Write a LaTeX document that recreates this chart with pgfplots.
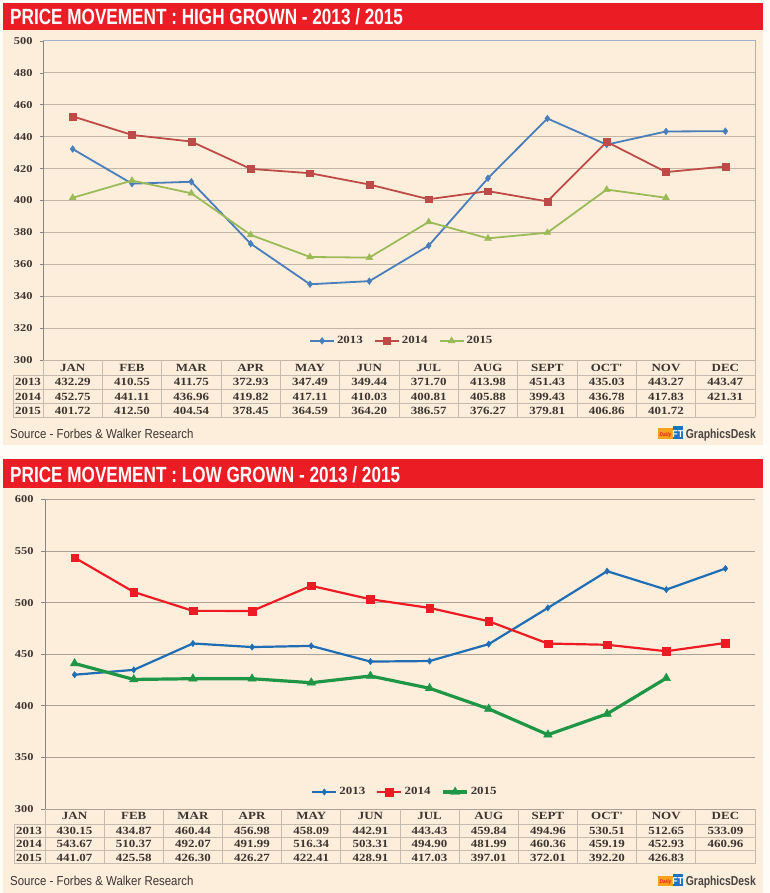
\documentclass[border=0pt]{standalone}
\usepackage{pgfplots}
\pgfplotsset{compat=1.18}
\usepackage{fontspec}
\setmainfont{Liberation Serif}
\newfontfamily\tabfont[FakeStretch=1.18]{Liberation Serif}
\newfontfamily\titlefont[FakeStretch=0.78]{Liberation Sans}
\newfontfamily\srcfont[FakeStretch=0.88]{Liberation Sans}
\newfontfamily\gdfont[FakeStretch=0.8]{Liberation Sans}
\definecolor{cream}{HTML}{FDEEDC}
\definecolor{outer}{HTML}{FFFCF7}
\definecolor{hdrred}{HTML}{EC1C24}
\definecolor{txt}{HTML}{3C3530}
\definecolor{gridA}{HTML}{C2B6A7}
\definecolor{gridB}{HTML}{ABA197}
\definecolor{frameblue}{HTML}{9EB4CC}
\definecolor{axgray}{HTML}{8A8580}
\definecolor{tline}{HTML}{C5BBAF}
\definecolor{bA}{HTML}{4A7EBB}
\definecolor{rA}{HTML}{BE4B48}
\definecolor{gA}{HTML}{9BBB59}
\definecolor{bB}{HTML}{1F6DB4}
\definecolor{rB}{HTML}{ED1C24}
\definecolor{gB}{HTML}{1E9646}
\definecolor{logoorange}{HTML}{F6A31B}
\definecolor{logoblue}{HTML}{1E73BE}
\definecolor{gdtxt}{HTML}{4A4542}
\newcommand\tabsize{\tabfont\bfseries\fontsize{11}{13}\selectfont}
\newcommand\ticksize{\tabfont\bfseries\fontsize{10.5}{12}\selectfont}
\newcommand\logo[1]{%
  \fill[logoorange] (658pt,{-(#1-10)*1pt}) rectangle (673pt,{-(#1+0.5)*1pt});
  \node[anchor=base, inner sep=0pt, text=hdrred, font=\srcfont\bfseries\itshape\fontsize{5.5}{6}\selectfont] at (665.5pt,{-(#1-2)*1pt}) {Daily};
  \fill[logoblue] (673pt,{-(#1-12)*1pt}) rectangle (682.5pt,{-(#1+0.5)*1pt});
  \node[anchor=base, inner sep=0pt, text=white, font=\srcfont\bfseries\fontsize{10}{11}\selectfont] at (677.8pt,{-(#1-1)*1pt}) {FT};
  \node[anchor=base east, inner sep=0pt, text=gdtxt, font=\gdfont\bfseries\fontsize{13}{15}\selectfont] at (756pt,{-#1*1pt}) {GraphicsDesk};
}
\begin{document}
\begin{tikzpicture}
\fill[outer] (0,0) rectangle (770pt,-893pt);
\useasboundingbox (0,0) rectangle (770pt,-893pt);
% panels
\fill[cream] (3pt,-30pt) rectangle (763pt,-445pt);
\fill[hdrred] (3pt,-3pt) rectangle (763pt,-30pt);
\fill[cream] (3pt,-488pt) rectangle (763pt,-893pt);
\fill[hdrred] (3pt,-459pt) rectangle (763pt,-488pt);
\node[anchor=base west, inner sep=0pt, text=white, font=\titlefont\bfseries\fontsize{22}{24}\selectfont] at (10pt,-24.5pt) {PRICE MOVEMENT : HIGH GROWN - 2013 / 2015};
\node[anchor=base west, inner sep=0pt, text=white, font=\titlefont\bfseries\fontsize{22}{24}\selectfont] at (10pt,-482pt) {PRICE MOVEMENT : LOW GROWN - 2013 / 2015};

% ---------------- TOP CHART ----------------
\begin{axis}[
  at={(43pt,-360pt)}, anchor=south west,
  scale only axis, width=712pt, height=319pt,
  xmin=0.5, xmax=12.5, ymin=300, ymax=500,
  ytick={300,320,...,500},
  axis x line=none, axis y line=left,
  y axis line style={-, draw=axgray, line width=0.9pt},
  ymajorgrids, grid style={draw=gridA, line width=1pt},
  tick align=outside, major tick length=3pt,
  ytick style={draw=axgray, line width=0.8pt},
  yticklabel style={font=\ticksize, text=txt, xshift=-4pt},
  /pgf/number format/assume math mode=true,
  /pgf/number format/1000 sep={},
  clip=false,
  legend style={at={(0.504,0.06)}, anchor=center, draw=none, fill=none, font=\tabsize, text=txt, legend columns=3, /tikz/every even column/.append style={column sep=9pt}},
  legend image code/.code={\draw[mark repeat=2,mark phase=2,#1] plot coordinates {(0pt,0pt) (12pt,0pt) (24pt,0pt)};},
]
\draw[frameblue, line width=1pt] (rel axis cs:0,1) -- (rel axis cs:1,1) -- (rel axis cs:1,0);
\addplot[bA, line width=1.8pt, mark=diamond*, mark size=3.4pt, mark options={solid, line width=0.4pt}] coordinates {
(1,432.29)(2,410.55)(3,411.75)(4,372.93)(5,347.49)(6,349.44)(7,371.70)(8,413.98)(9,451.43)(10,435.03)(11,443.27)(12,443.47)};
\addplot[rA, line width=1.8pt, mark=square*, mark size=3.4pt, mark options={solid, line width=0.4pt}] coordinates {
(1,452.75)(2,441.11)(3,436.96)(4,419.82)(5,417.11)(6,410.03)(7,400.81)(8,405.88)(9,399.43)(10,436.78)(11,417.83)(12,421.31)};
\addplot[gA, line width=1.8pt, mark=triangle*, mark size=4pt, mark options={solid, line width=0.4pt}] coordinates {
(1,401.72)(2,412.50)(3,404.54)(4,378.45)(5,364.59)(6,364.20)(7,386.57)(8,376.27)(9,379.81)(10,406.86)(11,401.72)};
\legend{2013,2014,2015}
\end{axis}

% top table
\begin{scope}[tline, line width=0.9pt]
\foreach \y in {375,389,403,417} \draw (13pt,{-\y*1pt}) -- (755pt,{-\y*1pt});
\draw (13pt,-375pt) -- (13pt,-417pt);
\foreach \k in {0,...,12} \draw ({43pt+\k*59.333pt},-360pt) -- ({43pt+\k*59.333pt},-417pt);
\end{scope}
\begin{scope}[every node/.style={anchor=base, inner sep=0pt, font=\tabsize, text=txt}]
\foreach \m [count=\i] in {JAN,FEB,MAR,APR,MAY,JUN,JUL,AUG,SEPT,OCT',NOV,DEC}
  \node at ({43pt+(\i-0.5)*59.333pt},-371.7pt) {\m};
\node at (28pt,-385.7pt) {2013};
\node at (28pt,-400.7pt) {2014};
\node at (28pt,-414.3pt) {2015};
\foreach \v [count=\i] in {432.29,410.55,411.75,372.93,347.49,349.44,371.70,413.98,451.43,435.03,443.27,443.47}
  \node at ({43pt+(\i-0.5)*59.333pt},-385.7pt) {\v};
\foreach \v [count=\i] in {452.75,441.11,436.96,419.82,417.11,410.03,400.81,405.88,399.43,436.78,417.83,421.31}
  \node at ({43pt+(\i-0.5)*59.333pt},-400.7pt) {\v};
\foreach \v [count=\i] in {401.72,412.50,404.54,378.45,364.59,364.20,386.57,376.27,379.81,406.86,401.72}
  \node at ({43pt+(\i-0.5)*59.333pt},-414.3pt) {\v};
\end{scope}
\node[anchor=base west, inner sep=0pt, font=\srcfont\fontsize{13}{15}\selectfont, text=txt] at (10pt,-438pt) {Source - Forbes \& Walker Research};
\logo{438}

% ---------------- BOTTOM CHART ----------------
\begin{axis}[
  at={(45pt,-809pt)}, anchor=south west,
  scale only axis, width=710pt, height=309.5pt,
  xmin=0.5, xmax=12.5, ymin=300, ymax=600,
  ytick={300,350,...,600},
  axis x line=none, axis y line=left,
  y axis line style={-, draw=axgray, line width=0.9pt},
  ymajorgrids, grid style={draw=gridB, line width=1pt},
  tick align=outside, major tick length=4pt,
  ytick style={draw=axgray, line width=0.8pt},
  yticklabel style={font=\ticksize, text=txt, xshift=-4pt},
  /pgf/number format/assume math mode=true,
  /pgf/number format/1000 sep={},
  clip=false,
  legend style={at={(0.507,0.055)}, anchor=center, draw=none, fill=none, font=\tabsize, text=txt, legend columns=3, /tikz/every even column/.append style={column sep=9pt}},
  legend image code/.code={\draw[mark repeat=2,mark phase=2,#1] plot coordinates {(0pt,0pt) (12pt,0pt) (24pt,0pt)};},
]
\addplot[bB, line width=2.2pt, mark=diamond*, mark size=3.2pt, mark options={solid, line width=0.4pt}] coordinates {
(1,430.15)(2,434.87)(3,460.44)(4,456.98)(5,458.09)(6,442.91)(7,443.43)(8,459.84)(9,494.96)(10,530.51)(11,512.65)(12,533.09)};
\addplot[rB, line width=2.2pt, mark=square*, mark size=3.8pt, mark options={solid, line width=0.4pt}] coordinates {
(1,543.67)(2,510.37)(3,492.07)(4,491.99)(5,516.34)(6,503.31)(7,494.90)(8,481.99)(9,460.36)(10,459.19)(11,452.93)(12,460.96)};
\addplot[gB, line width=3.2pt, mark=triangle*, mark size=5pt, mark options={solid, line width=0.4pt}] coordinates {
(1,441.07)(2,425.58)(3,426.30)(4,426.27)(5,422.41)(6,428.91)(7,417.03)(8,397.01)(9,372.01)(10,392.20)(11,426.83)};
\legend{2013,2014,2015}
\end{axis}

% bottom table
\begin{scope}[tline, line width=0.9pt]
\foreach \y in {824,837.2,850.4,863.6} \draw (14pt,{-\y*1pt}) -- (755pt,{-\y*1pt});
\draw (14pt,-824pt) -- (14pt,-863.6pt);
\foreach \k in {0,...,12} \draw ({45pt+\k*59.1667pt},-809pt) -- ({45pt+\k*59.1667pt},-863.6pt);
\end{scope}
\begin{scope}[every node/.style={anchor=base, inner sep=0pt, font=\tabsize, text=txt}]
\foreach \m [count=\i] in {JAN,FEB,MAR,APR,MAY,JUN,JUL,AUG,SEPT,OCT',NOV,DEC}
  \node at ({45pt+(\i-0.5)*59.1667pt},-819.3pt) {\m};
\node at (29pt,-834pt) {2013};
\node at (29pt,-847.3pt) {2014};
\node at (29pt,-861pt) {2015};
\foreach \v [count=\i] in {430.15,434.87,460.44,456.98,458.09,442.91,443.43,459.84,494.96,530.51,512.65,533.09}
  \node at ({45pt+(\i-0.5)*59.1667pt},-834pt) {\v};
\foreach \v [count=\i] in {543.67,510.37,492.07,491.99,516.34,503.31,494.90,481.99,460.36,459.19,452.93,460.96}
  \node at ({45pt+(\i-0.5)*59.1667pt},-847.3pt) {\v};
\foreach \v [count=\i] in {441.07,425.58,426.30,426.27,422.41,428.91,417.03,397.01,372.01,392.20,426.83}
  \node at ({45pt+(\i-0.5)*59.1667pt},-861pt) {\v};
\end{scope}
\node[anchor=base west, inner sep=0pt, font=\srcfont\fontsize{13}{15}\selectfont, text=txt] at (10pt,-885.5pt) {Source - Forbes \& Walker Research};
\logo{885.5}
\end{tikzpicture}
\end{document}
